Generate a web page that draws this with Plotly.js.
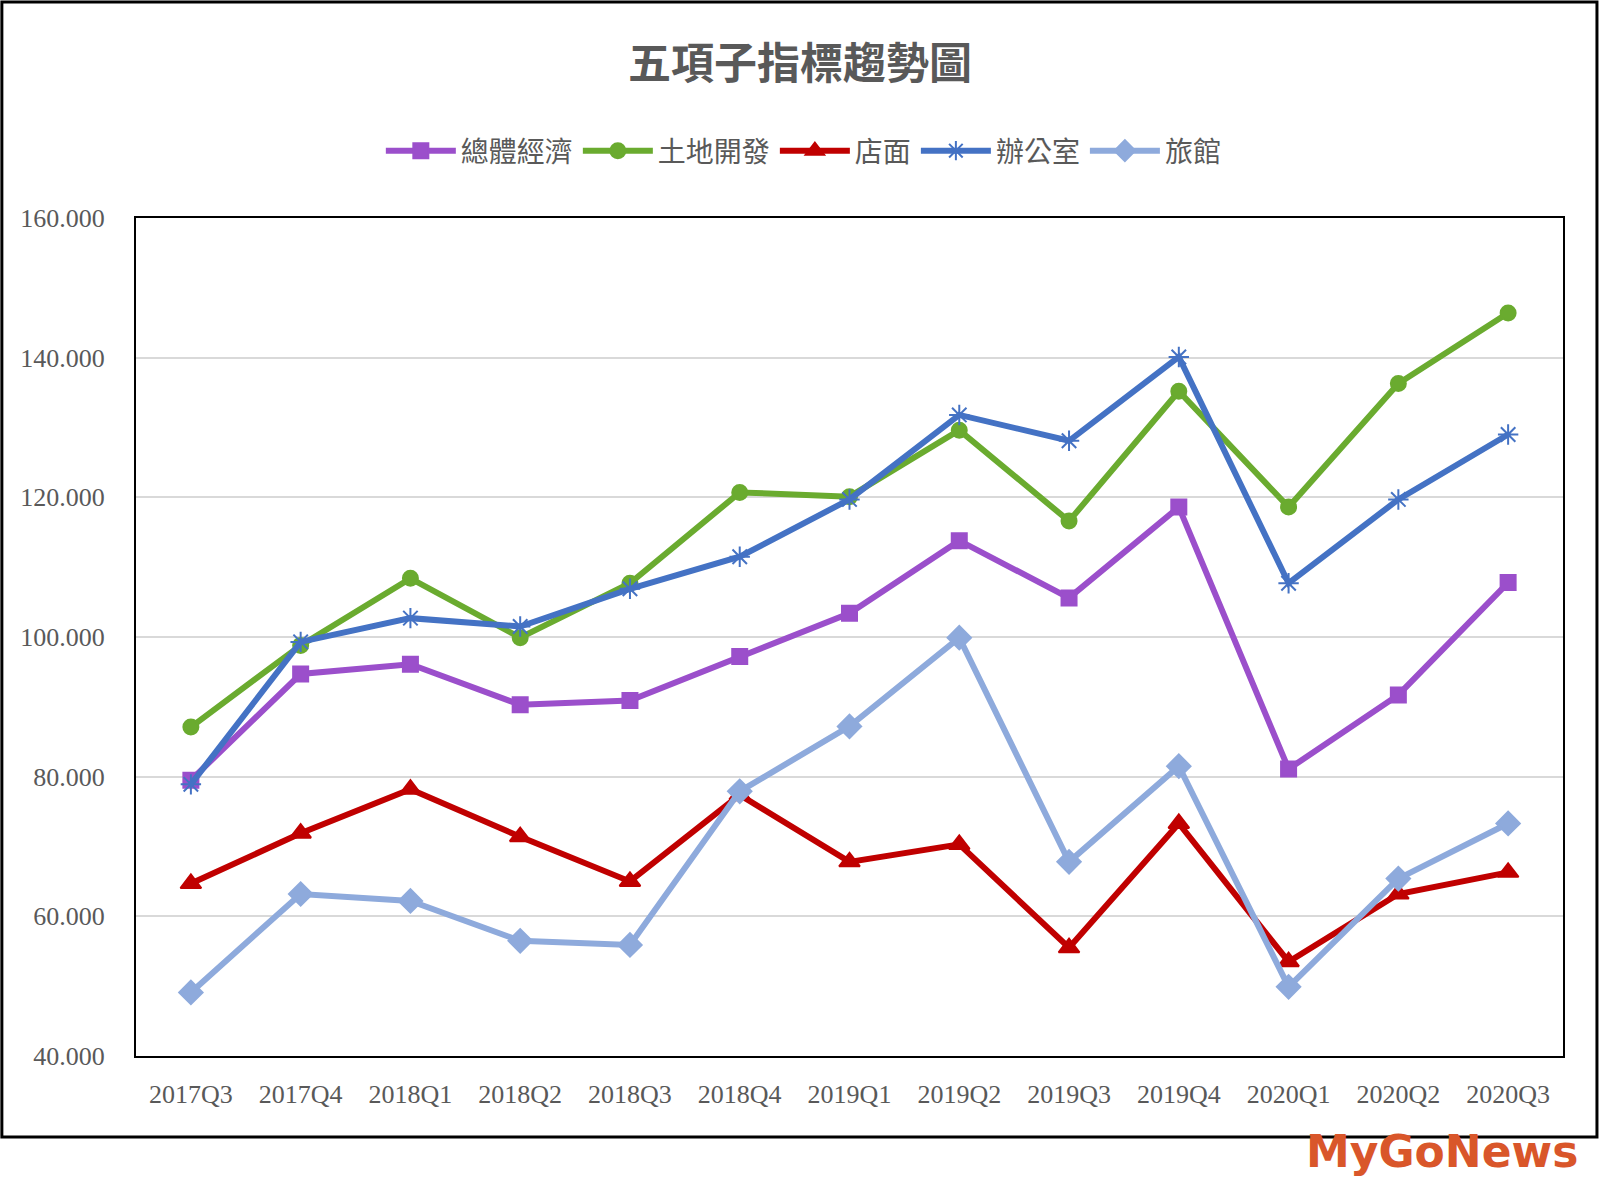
<!DOCTYPE html>
<html>
<head>
<meta charset="utf-8">
<script src="https://cdn.plot.ly/plotly-3.0.1.min.js"></script>
<style>
  html, body { margin: 0; padding: 0; background: #ffffff; }
  #myDiv { width: 1600px; height: 1200px; }
</style>
</head>
<body>
<div id="myDiv"></div>
<script>
graphDiv = 'myDiv'

// quarters on the x axis
var quarters = ['2017Q3', '2017Q4', '2018Q1', '2018Q2', '2018Q3', '2018Q4', '2019Q1',
  '2019Q2', '2019Q3', '2019Q4', '2020Q1', '2020Q2', '2020Q3']

// five sub-index series
var economy = [79.5, 94.7, 96.1, 90.3, 90.9, 97.2, 103.4, 113.8, 105.6, 118.6, 81.1, 91.7, 107.8]
var land = [87.1, 98.8, 108.4, 99.9, 107.7, 120.7, 120.1, 129.6, 116.6, 135.2, 118.6, 136.3, 146.4]
var shop = [64.7, 71.9, 78.2, 71.4, 65.0, 77.4, 67.8, 70.3, 55.5, 73.3, 53.5, 63.2, 66.3]
var office = [78.9, 99.3, 102.7, 101.5, 106.9, 111.5, 119.7, 131.8, 128.1, 140.1, 107.7, 119.7, 129.0]
var hotel = [49.1, 63.2, 62.2, 56.5, 55.9, 77.9, 87.2, 99.9, 67.8, 81.5, 49.9, 65.4, 73.3]

var seriesNames = ['總體經濟', '土地開發', '店面', '辦公室', '旅館']
var yTicks = [40, 60, 80, 100, 120, 140, 160]

var serif = '"Liberation Serif", "Noto Sans CJK TC", serif'
var textGrey = '#595959'

function makeTrace(name, values, color, symbol, size) {
  return {
    x: quarters,
    y: values,
    name: name,
    type: 'scatter',
    mode: 'lines+markers',
    line: { color: color, width: 6 },
    marker: { color: color, symbol: symbol, size: size, line: { color: color, width: 2 } },
    cliponaxis: false
  }
}

var data = [
  makeTrace(seriesNames[0], economy, '#9b4fcb', 'square', 15),
  makeTrace(seriesNames[1], land, '#6aab2f', 'circle', 15),
  makeTrace(seriesNames[2], shop, '#c00000', 'triangle-up', 18),
  makeTrace(seriesNames[3], office, '#4472c4', 'asterisk-open', 17),
  makeTrace(seriesNames[4], hotel, '#8eaadc', 'diamond', 18)
]

var layout = {
  width: 1600,
  height: 1200,
  paper_bgcolor: '#ffffff',
  plot_bgcolor: '#ffffff',
  margin: { l: 136, r: 37, t: 218, b: 144 },
  font: { family: serif, color: textGrey, size: 26 },
  title: {
    text: '<b>五項子指標趨勢圖</b>',
    font: { family: serif, size: 43, color: textGrey },
    x: 0.5, xref: 'container', xanchor: 'center',
    y: 0.947, yref: 'container', yanchor: 'middle'
  },
  showlegend: true,
  legend: {
    orientation: 'h',
    x: 0.468, xanchor: 'center',
    y: 1.08, yanchor: 'middle',
    font: { family: serif, size: 28, color: textGrey },
    itemwidth: 70,
    tracegroupgap: 0
  },
  xaxis: {
    type: 'category',
    range: [-0.5, quarters.length - 0.5],
    showgrid: false,
    zeroline: false,
    showline: true,
    linecolor: '#000000',
    linewidth: 2,
    mirror: true,
    ticks: '',
    ticklabelstandoff: 14,
    tickfont: { family: serif, size: 26, color: textGrey },
    fixedrange: true
  },
  yaxis: {
    range: [40, 160],
    tickvals: yTicks,
    tickformat: '.3f',
    showgrid: true,
    gridcolor: '#d9d9d9',
    gridwidth: 2,
    zeroline: false,
    showline: true,
    linecolor: '#000000',
    linewidth: 2,
    mirror: true,
    ticks: '',
    ticklabelstandoff: 24,
    tickfont: { family: serif, size: 26, color: textGrey },
    fixedrange: true
  },
  shapes: [
    {
      // outer chart frame
      type: 'rect', xref: 'paper', yref: 'paper',
      x0: -0.094, x1: 1.0238, y0: -0.0967, y1: 1.2578,
      line: { color: '#000000', width: 3 }
    }
  ],
  annotations: [
    {
      text: '<b>MyGoNews</b>',
      xref: 'paper', yref: 'paper',
      x: 1.012, xanchor: 'right',
      y: -0.114, yanchor: 'middle',
      showarrow: false,
      font: { family: '"DejaVu Sans", sans-serif', size: 44, color: '#d9562a' }
    }
  ]
}

Plotly.newPlot(graphDiv, data, layout, { displayModeBar: false, staticPlot: true })
</script>
</body>
</html>
